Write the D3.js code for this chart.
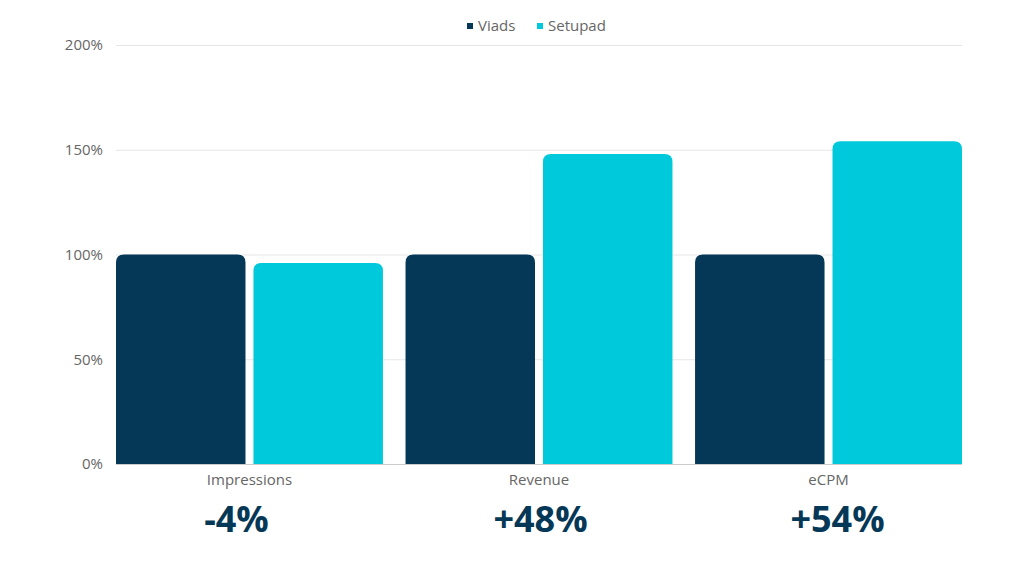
<!DOCTYPE html>
<html><head><meta charset="utf-8">
<script src="https://cdn.jsdelivr.net/npm/d3@7"></script>
<style>body{margin:0;background:#fff;font-family:"Open Sans",sans-serif;}</style>
</head><body><svg id="c" width="1024" height="576"></svg>
<script>
const categories = ["Impressions", "Revenue", "eCPM"];
const seriesNames = ["Viads", "Setupad"];
const viads = [100, 100, 100];
const setupad = [96, 148, 154];
const changeLabels = ["-4%", "+48%", "+54%"];
const yTicks = [0, 50, 100, 150, 200];
const colors = ["#053857", "#00C9DB"];

(function () {
const svg = d3.select("#c");
const left = 116, right = 962, plotTop = 45, bottom = 464;
const y = d3.scaleLinear().domain([0, 200]).range([bottom, plotTop]);
const x0 = d3.scaleBand().domain(categories).range([left, right]).paddingInner(0.078).paddingOuter(0);
const x1 = d3.scaleBand().domain(seriesNames).range([0, x0.bandwidth()]).paddingInner(0.058).paddingOuter(0);
const labelShift = [-13, 1.5, 9];

svg.append("g").selectAll("line").data(yTicks.filter(t => t > 0)).join("line")
  .attr("x1", left).attr("x2", right)
  .attr("y1", d => y(d) + 0.5).attr("y2", d => y(d) + 0.5)
  .attr("stroke", "#e6e6e6").attr("stroke-width", 1);

svg.append("g").selectAll("text").data(yTicks).join("text")
  .attr("x", 103).attr("y", d => y(d)).attr("dy", "0.35em")
  .attr("text-anchor", "end").attr("font-size", 15).attr("fill", "#666")
  .text(d => d + "%");

const r = 8;
function topRounded(x, yTop, w, h) {
  const rr = Math.min(r, h, w / 2);
  return `M${x},${yTop + h}V${yTop + rr}Q${x},${yTop} ${x + rr},${yTop}H${x + w - rr}Q${x + w},${yTop} ${x + w},${yTop + rr}V${yTop + h}Z`;
}
const data = categories.map((c, i) => ({ cat: c, vals: [viads[i], setupad[i]] }));
const g = svg.append("g").selectAll("g").data(data).join("g")
  .attr("transform", d => `translate(${x0(d.cat)},0)`);
g.selectAll("path").data(d => d.vals.map((v, j) => ({ s: seriesNames[j], v, j }))).join("path")
  .attr("d", d => topRounded(x1(d.s), y(d.v), x1.bandwidth(), bottom - y(d.v)))
  .attr("fill", d => colors[d.j]);

svg.append("line").attr("x1", left).attr("x2", right).attr("y1", bottom + 0.5).attr("y2", bottom + 0.5)
  .attr("stroke", "#cccccc");

svg.append("g").selectAll("text").data(categories).join("text")
  .attr("x", d => x0(d) + x0.bandwidth() / 2).attr("y", 485)
  .attr("text-anchor", "middle").attr("font-size", 15).attr("fill", "#666")
  .text(d => d);

svg.append("g").selectAll("text").data(categories).join("text")
  .attr("x", (d, i) => x0(d) + x0.bandwidth() / 2 + labelShift[i]).attr("y", 532)
  .attr("text-anchor", "middle").attr("font-size", 36).attr("font-weight", 700).attr("fill", "#053857")
  .text((d, i) => changeLabels[i]);

const legend = svg.append("g");
const legendItems = [{ n: "Viads", x: 467 }, { n: "Setupad", x: 537 }];
legendItems.forEach((it, i) => {
  legend.append("rect").attr("x", it.x).attr("y", 23).attr("width", 6).attr("height", 6).attr("fill", colors[i]);
  legend.append("text").attr("x", it.x + 11).attr("y", 26).attr("dy", "0.35em")
    .attr("font-size", 15).attr("fill", "#666").text(it.n);
});
})();
</script></body></html>
